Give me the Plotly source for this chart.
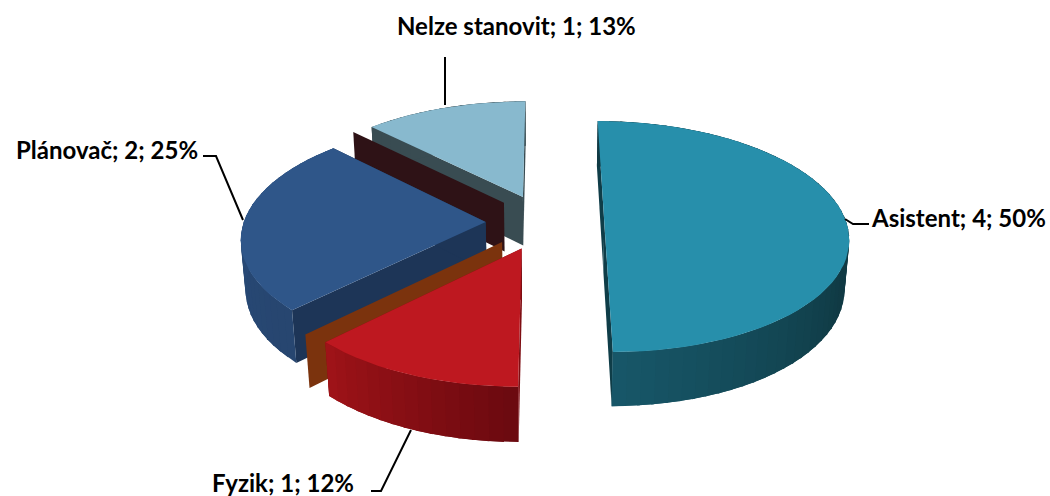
import math

import plotly.graph_objects as go

names = ["Asistent", "Fyzik", "Plánovač", "Nelze stanovit"]
counts = [4, 1, 2, 1]
percent_labels = ["50%", "12%", "25%", "13%"]

top_colors = ["#278FAB", "#BE1820", "#2F5689", "#88B9CE"]
cut_colors = ["#0F3D48", "#7E0D12", "#1D3557", "#394C52"]
wall_dark = ["#103A44", "#6C0A10", "#274670", "#394C52"]
wall_light = ["#18586A", "#9E1318", "#2A4E7D", "#394C52"]
stray_colors = {"Fyzik": "#7B330D", "Plánovač": "#2E1216"}

# view of the pie, tuned by eye
CX, CY = 545, 222
F = 242
ELEV = math.radians(28)
DIST = 7.0
EXPLODE = 0.245
DEPTH = 0.235


def project(x, y, z):
    depth = y * math.cos(ELEV) - z * math.sin(ELEV)
    up = y * math.sin(ELEV) + z * math.cos(ELEV)
    s = DIST / (DIST + depth)
    return CX + F * x * s, CY - F * up * s


def on_disc(deg, r, off, mid, z=0.0):
    a, m = math.radians(deg), math.radians(mid)
    return project(
        r * math.sin(a) + off * math.sin(m), r * math.cos(a) + off * math.cos(m), z
    )


def mix(c1, c2, t):
    a = [int(c1[i : i + 2], 16) for i in (1, 3, 5)]
    b = [int(c2[i : i + 2], 16) for i in (1, 3, 5)]
    return "rgb(%d,%d,%d)" % tuple(p + (q - p) * t for p, q in zip(a, b))


fig = go.Figure()


def poly(points, color):
    fig.add_trace(
        go.Scatter(
            x=[p[0] for p in points] + [points[0][0]],
            y=[p[1] for p in points] + [points[0][1]],
            mode="lines",
            fill="toself",
            fillcolor=color,
            line=dict(width=0),
            hoverinfo="skip",
            showlegend=False,
        )
    )


def draw_slice(i, start, end):
    mid = (start + end) / 2
    steps = max(8, int((end - start) / 3))
    angles = [start + (end - start) * k / steps for k in range(steps + 1)]

    # cut faces
    for a in (start, end):
        poly(
            [
                on_disc(a, 0, EXPLODE, mid),
                on_disc(a, 1, EXPLODE, mid),
                on_disc(a, 1, EXPLODE, mid, -DEPTH),
                on_disc(a, 0, EXPLODE, mid, -DEPTH),
            ],
            cut_colors[i],
        )

    # outer wall, each strip runs on under the next one so no seams show
    for k in range(steps):
        a0, a1 = angles[k], min(end, angles[k] + 2.2 * (end - start) / steps)
        if i == 0:
            # the teal wall is only light near its left end
            t = min(1, (180 - a0) / 70)
            color = mix(wall_light[i], wall_dark[i], t)
        else:
            color = mix(wall_dark[i], wall_light[i], k / (steps - 1))
        poly(
            [
                on_disc(a0, 1, EXPLODE, mid),
                on_disc(a1, 1, EXPLODE, mid),
                on_disc(a1, 1, EXPLODE, mid, -DEPTH),
                on_disc(a0, 1, EXPLODE, mid, -DEPTH),
            ],
            color,
        )

    # top
    poly(
        [on_disc(0, 0, EXPLODE, mid)] + [on_disc(a, 1, EXPLODE, mid) for a in angles],
        top_colors[i],
    )


def draw_stray(angle, color):
    # loose radial faces that sit along the slice boundaries
    poly(
        [
            on_disc(angle, EXPLODE, 0, angle),
            on_disc(angle, 1 + EXPLODE, 0, angle),
            on_disc(angle, 1 + EXPLODE, 0, angle, -DEPTH),
            on_disc(angle, EXPLODE, 0, angle, -DEPTH),
        ],
        color,
    )


total = sum(counts)
edges = [0]
for c in counts:
    edges.append(edges[-1] + 360 * c / total)

draw_slice(3, edges[3], edges[4])
draw_stray(edges[3], stray_colors["Plánovač"])
draw_slice(2, edges[2], edges[3])
draw_stray(edges[2], stray_colors["Fyzik"])
draw_slice(0, edges[0], edges[1])
draw_slice(1, edges[1], edges[2])

# leader lines
leaders = [
    [(845, 219), (853, 224), (869, 224)],
    [(411, 430), (381, 491), (371, 491)],
    [(243, 220), (216, 156), (203, 156)],
    [(445, 105), (445, 57)],
]
for pts in leaders:
    fig.add_trace(
        go.Scatter(
            x=[p[0] for p in pts],
            y=[p[1] for p in pts],
            mode="lines",
            line=dict(color="#000000", width=2),
            hoverinfo="skip",
            showlegend=False,
        )
    )

label_pos = [(1048, 217, "right"), (356, 482, "right"), (200, 149, "right"), (516, 25, "center")]
for name, n, pct, (lx, ly, anchor) in zip(names, counts, percent_labels, label_pos):
    fig.add_annotation(
        x=lx,
        y=ly,
        text=f"<b>{name}; {n}; {pct}</b>",
        showarrow=False,
        xanchor=anchor,
        yanchor="middle",
        font=dict(family="Lato", size=24, color="#000000"),
    )

fig.update_layout(
    width=1050,
    height=496,
    margin=dict(l=0, r=0, t=0, b=0),
    paper_bgcolor="#ffffff",
    plot_bgcolor="#ffffff",
)
fig.update_xaxes(range=[0, 1050], visible=False)
fig.update_yaxes(range=[496, 0], visible=False)

fig.write_html(
    "out.html",
    config={"displayModeBar": False},
    post_script="document.body.style.margin='0';",
)
